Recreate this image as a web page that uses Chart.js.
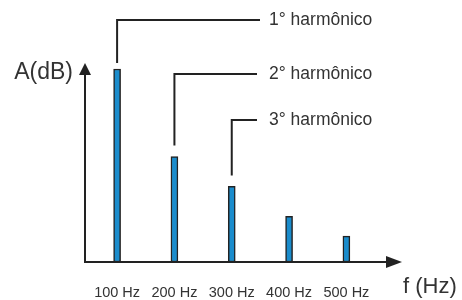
<!DOCTYPE html>
<html lang="pt">
<head>
  <meta charset="UTF-8">
  <title>Espectro de harmônicos</title>
  <script src="https://cdn.jsdelivr.net/npm/chart.js"></script>
  <style>
    html, body { margin: 0; padding: 0; background: #fff; }
    #wrap { width: 462px; height: 300px; }
  </style>
</head>
<body>
  <div id="wrap"><canvas id="spectrum"></canvas></div>

  <script>
    // harmonic frequencies and amplitudes (arbitrary dB units)
    const freqs = [100, 200, 300, 400, 500];
    const amps = [97, 53, 38, 23, 13];
    const tickLabels = ['100 Hz', '200 Hz', '300 Hz', '400 Hz', '500 Hz'];
    const harmonicNames = ['1° harmônico', '2° harmônico', '3° harmônico'];
    // y position (px) of each callout's horizontal line
    const calloutY = [20, 74, 120];

    const ink = '#222';
    const textCol = '#333';
    const font = 'Arial, "Liberation Sans", sans-serif';

    function arrowHead(ctx, x, y, dir) {
      ctx.beginPath();
      if (dir === 'up') {
        ctx.moveTo(x, y);
        ctx.lineTo(x - 6, y + 12);
        ctx.lineTo(x + 6, y + 12);
      } else {
        ctx.moveTo(x, y);
        ctx.lineTo(x - 16, y - 6);
        ctx.lineTo(x - 16, y + 6);
      }
      ctx.closePath();
      ctx.fill();
    }

    const drawing = {
      id: 'drawing',
      beforeDatasetsDraw(chart) {
        const { ctx, chartArea: a } = chart;
        ctx.save();
        ctx.strokeStyle = ink;
        ctx.fillStyle = ink;
        ctx.lineWidth = 2;
        // axes
        ctx.beginPath();
        ctx.moveTo(a.left, a.top + 8);
        ctx.lineTo(a.left, a.bottom);
        ctx.lineTo(a.right - 10, a.bottom);
        ctx.stroke();
        arrowHead(ctx, a.left, a.top, 'up');
        arrowHead(ctx, a.right, a.bottom, 'right');
        ctx.restore();
      },
      afterDatasetsDraw(chart) {
        const { ctx, chartArea: a, scales } = chart;
        const x = scales.x, y = scales.y;
        ctx.save();
        ctx.fillStyle = textCol;
        // axis titles
        ctx.font = '23px ' + font;
        ctx.textBaseline = 'middle';
        ctx.textAlign = 'right';
        ctx.fillText('A(dB)', a.left - 12, 73);
        ctx.textAlign = 'left';
        ctx.font = '22px ' + font;
        ctx.fillText('f (Hz)', a.right + 1, 287);
        // tick labels
        ctx.font = '14.5px ' + font;
        ctx.textAlign = 'center';
        freqs.forEach((f, i) => {
          ctx.fillText(tickLabels[i], x.getPixelForValue(f), 293);
        });
        // callouts
        ctx.strokeStyle = ink;
        ctx.lineWidth = 2;
        ctx.font = '17.5px ' + font;
        ctx.textAlign = 'left';
        harmonicNames.forEach((name, i) => {
          const px = x.getPixelForValue(freqs[i]);
          const top = y.getPixelForValue(amps[i]);
          const ly = calloutY[i];
          const endX = i === 0 ? 260 : 257;
          ctx.beginPath();
          ctx.moveTo(px, top - (i === 0 ? 6 : 11));
          ctx.lineTo(px, ly);
          ctx.lineTo(endX, ly);
          ctx.stroke();
          ctx.fillText(name, 269, ly);
        });
        ctx.restore();
      }
    };

    new Chart(document.getElementById('spectrum'), {
      type: 'bar',
      data: {
        datasets: [{
          data: freqs.map((f, i) => ({ x: f, y: amps[i] })),
          backgroundColor: '#1a8ccc',
          borderColor: ink,
          borderWidth: 1.5,
          borderSkipped: false,
          barThickness: 7
        }]
      },
      options: {
        responsive: true,
        maintainAspectRatio: false,
        animation: false,
        layout: { padding: { left: 85, right: 60, top: 63, bottom: 38 } },
        plugins: { legend: { display: false }, tooltip: { enabled: false } },
        scales: {
          x: { type: 'linear', min: 44, max: 597, offset: false, display: false },
          y: { min: 0, max: 100, display: false }
        }
      },
      plugins: [drawing]
    });
  </script>
</body>
</html>
